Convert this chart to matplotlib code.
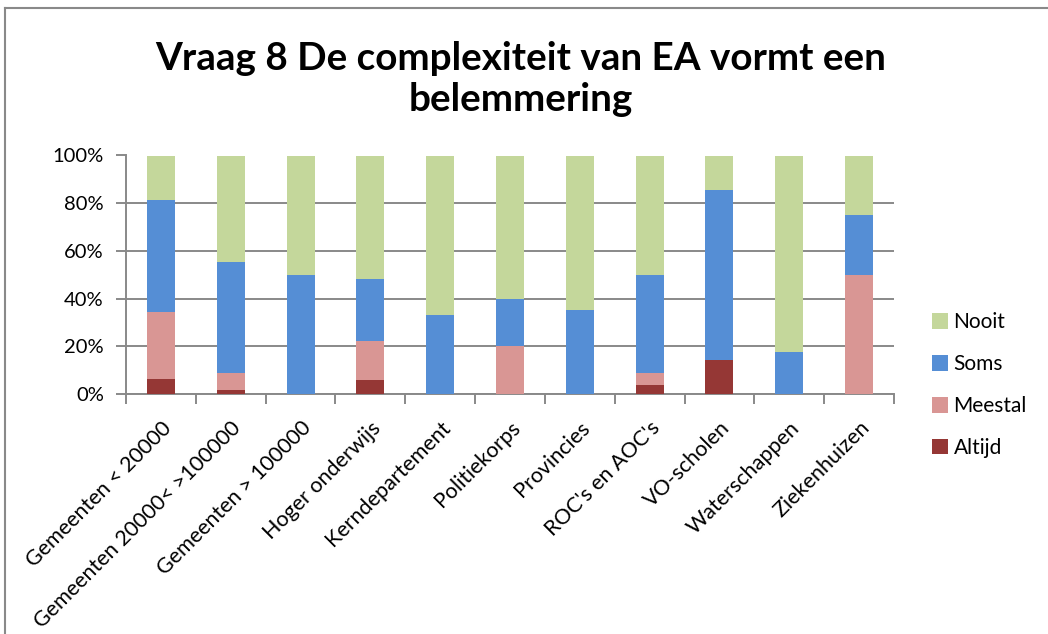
import matplotlib.pyplot as plt
import numpy as np
from matplotlib.lines import Line2D

plt.rcParams["font.family"] = ["Lato", "DejaVu Sans"]

categories = [
    "Gemeenten < 20000",
    "Gemeenten 20000< >100000",
    "Gemeenten > 100000",
    "Hoger onderwijs",
    "Kerndepartement",
    "Politiekorps",
    "Provincies",
    "ROC's en AOC's",
    "VO-scholen",
    "Waterschappen",
    "Ziekenhuizen",
]

# share of answers per category (%)
altijd = [6.25, 1.5, 0, 6.0, 0, 0, 0, 3.7, 14.3, 0, 0]
meestal = [28.1, 7.3, 0, 16.1, 0, 20.0, 0, 5.1, 0, 0, 50.0]
soms = [46.9, 46.7, 50.0, 26.2, 33.3, 20.0, 35.2, 41.2, 71.4, 17.6, 25.0]
nooit = [18.75, 44.5, 50.0, 51.7, 66.7, 60.0, 64.8, 50.0, 14.3, 82.4, 25.0]

series = [
    ("Altijd", altijd, "#953735"),
    ("Meestal", meestal, "#D99694"),
    ("Soms", soms, "#558ED5"),
    ("Nooit", nooit, "#C4D79B"),
]

grey = "#898989"

fig = plt.figure(figsize=(10.48, 6.34), dpi=100)
W, H = 1048, 634
ax = fig.add_axes([126 / W, 1 - 394 / H, (894 - 126) / W, (394 - 155.5) / H])

x = np.arange(len(categories))
bottom = np.zeros(len(categories))
handles = {}
for name, vals, color in series:
    vals = np.array(vals, dtype=float)
    b = ax.bar(x, vals, 0.4, bottom=bottom, color=color, zorder=3, label=name)
    handles[name] = b
    bottom += vals

ax.set_xlim(-0.5, len(categories) - 0.5)
ax.set_ylim(0, 100)
ax.set_yticks(np.arange(0, 101, 20))
ax.set_yticklabels([f"{v}%" for v in range(0, 101, 20)], fontsize=14.5)
ax.yaxis.grid(True, color=grey, linewidth=1.4, zorder=0)

# category boundary ticks on the x axis, labels under bars
ax.set_xticks(np.arange(-0.5, len(categories), 1.0))
ax.set_xticklabels([])
ax.set_xticks(x, minor=True)
ax.set_xticklabels(categories, minor=True, rotation=45, ha="right",
                   va="top", rotation_mode="anchor", fontsize=15.5)
ax.tick_params(axis="x", which="minor", length=0, pad=17)
ax.tick_params(axis="x", which="major", length=7, color=grey, width=1.4)
ax.tick_params(axis="y", length=7, color=grey, width=1.4, pad=9)

for side in ["top", "right"]:
    ax.spines[side].set_visible(False)
for side in ["left", "bottom"]:
    ax.spines[side].set_color(grey)
    ax.spines[side].set_linewidth(1.4)

fig.text(0.497, 1 - 79 / H, "Vraag 8 De complexiteit van EA vormt een\nbelemmering",
         ha="center", va="center", fontsize=27.8, fontweight="bold",
         linespacing=1.22)

order = ["Nooit", "Soms", "Meestal", "Altijd"]
fig.legend([handles[n] for n in order], order,
           loc="center left", bbox_to_anchor=(932 / W, 1 - 385 / H),
           frameon=False, fontsize=15, handlelength=0.78, handleheight=0.78,
           handletextpad=0.25, labelspacing=1.05, borderpad=0,
           borderaxespad=0)

# chart area border
fig.add_artist(Line2D([5 / W, 5 / W], [0, 1 - 8 / H], color=grey, lw=1.5))
fig.add_artist(Line2D([5 / W, 1], [1 - 8 / H, 1 - 8 / H], color=grey, lw=1.5))

fig.savefig("out.png", dpi=100)
